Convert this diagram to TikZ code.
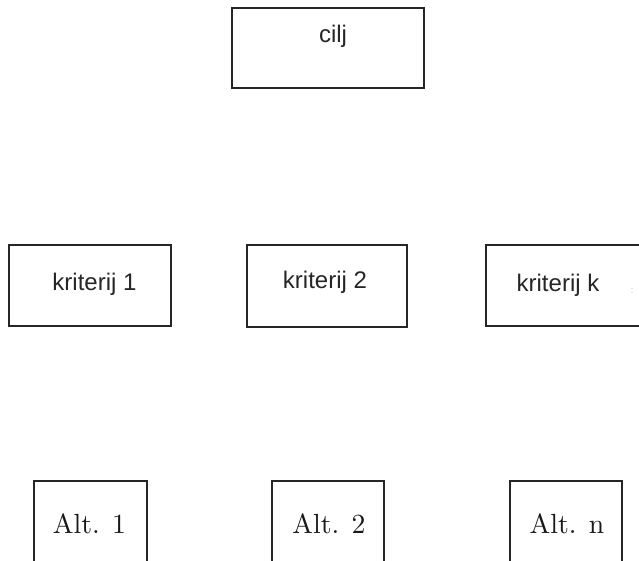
\documentclass[tikz,border=0pt]{standalone}
\usepackage{fontspec}
\newfontfamily\arialish{Liberation Sans}
\newfontfamily\lmten{lmroman10-regular.otf}
\begin{document}
\begin{tikzpicture}[x=1pt,y=-1pt,
  boxstyle/.style={draw=black!85, line width=1.6pt, rectangle, inner sep=0pt},
  sanslbl/.style={font=\arialish\fontsize{24}{28}\selectfont, text=black!85, anchor=base, inner sep=0pt},
  seriflbl/.style={font=\lmten\fontsize{27.7}{32}\selectfont, text=black!90, anchor=base, inner sep=0pt}]
  \useasboundingbox (0,0) rectangle (639,561);
  \fill[white] (0,0) rectangle (639,561);
  \begin{scope}
  \clip (0,0) rectangle (639,561);
  % goal
  \node[boxstyle, minimum width=192, minimum height=80] (cilj) at (328,48) {};
  \node[sanslbl] (tcilj) at (333,43) {cilj};
  % criteria
  \node[boxstyle, minimum width=162, minimum height=81] (k1) at (90,285.5) {};
  \node[sanslbl] (tk1) at (94.5,290) {kriterij 1};
  \node[boxstyle, minimum width=160, minimum height=82] (k2) at (327,286) {};
  \node[sanslbl] (tk2) at (325,288) {kriterij 2};
  \node[boxstyle, minimum width=162, minimum height=81] (kk) at (567,285.5) {};
  \node[sanslbl] (tkk) at (558,291) {kriterij k};
  \node[font=\arialish\fontsize{9}{10}\selectfont, text={rgb,255:red,140;green,175;blue,215}, inner sep=0pt] (dots) at (632,291) {:};
  % alternatives
  \node[boxstyle, minimum width=113, minimum height=100] (a1) at (90.5,531) {};
  \node[seriflbl] (ta1) at (89.5,533) {Alt. 1};
  \node[boxstyle, minimum width=112, minimum height=100] (a2) at (328,531) {};
  \node[seriflbl] (ta2) at (329,533) {Alt. 2};
  \node[boxstyle, minimum width=112, minimum height=100] (an) at (566,531) {};
  \node[seriflbl] (tan) at (567,533) {Alt. n};
  \end{scope}
\end{tikzpicture}
\end{document}
